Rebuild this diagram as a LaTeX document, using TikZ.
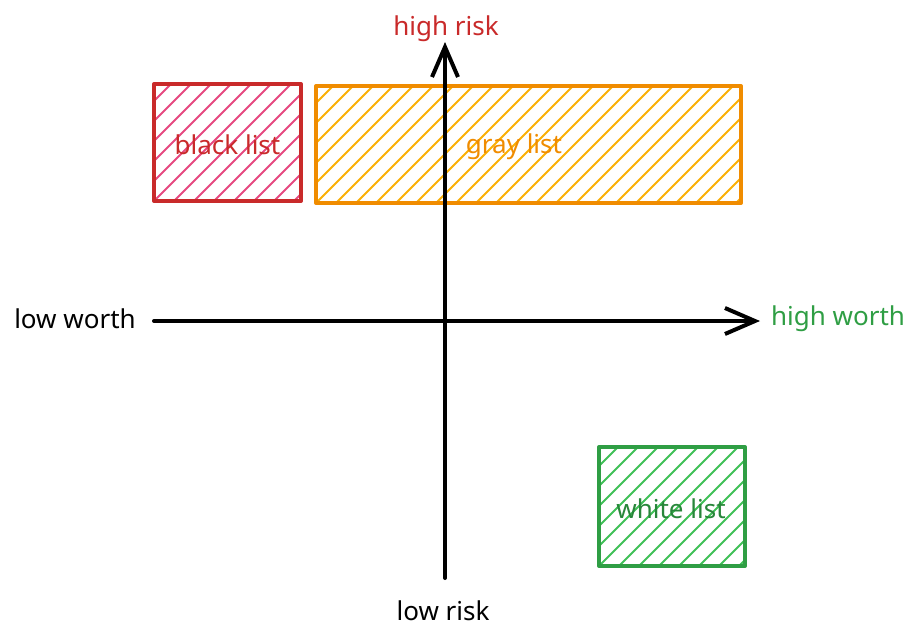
\documentclass[tikz,border=0pt]{standalone}
\usepackage{fontspec}
\setmainfont{Noto Sans}
\usetikzlibrary{arrows.meta}
\definecolor{redS}{HTML}{C92A2A}
\definecolor{pinkH}{HTML}{E64980}
\definecolor{orS}{HTML}{F08C00}
\definecolor{orH}{HTML}{FAB005}
\definecolor{orT}{HTML}{F08C00}
\definecolor{grS}{HTML}{2F9E44}
\definecolor{grH}{HTML}{40C057}
\tikzset{
  lab/.style={font=\fontsize{26}{30}\selectfont, inner sep=0pt},
  boxtxt/.style={font=\fontsize{26}{30}\selectfont, inner sep=0pt},
  axis/.style={line width=4pt, black, line cap=round,
    -{Straight Barb[length=30pt,width=26pt,line width=4pt]}},
  frame/.style={line width=4pt, line join=round},
  hatch/.style={line width=1.8pt},
}
\newcommand{\hatchbox}[5]{% x0 y0 x1 y1 color
  \begin{scope}
    \clip (#1,#2) rectangle (#3,#4);
    \foreach \i in {-160,-140,...,460} {
      \draw[hatch,#5] (#1+\i,#4) -- ++(160,-160);
    }
  \end{scope}
}
\begin{document}
\begin{tikzpicture}[x=1pt,y=-1pt]
\useasboundingbox (0,0) rectangle (918,640);
% hatching
\hatchbox{154}{84}{301}{201}{pinkH}
\hatchbox{316}{86}{741}{203}{orH}
\hatchbox{599}{447}{745}{566}{grH}
% frames
\node[draw=redS, frame, minimum width=147pt, minimum height=117pt, inner sep=0pt] (black) at (227.5,142.5) {};
\node[draw=orS, frame, minimum width=425pt, minimum height=117pt, inner sep=0pt] (gray) at (528.5,144.5) {};
\node[draw=grS, frame, minimum width=146pt, minimum height=119pt, inner sep=0pt] (white) at (672,506.5) {};
\node[boxtxt, text=redS] (blacktxt) at (227.5,145) {black list};
\node[boxtxt, text=orT] (graytxt) at (514,147) {gray list};
\node[boxtxt, text=grS!85!black] (whitetxt) at (671,509) {white list};
% axes
\coordinate (vb) at (445,578);
\coordinate (vt) at (445,42);
\coordinate (hl) at (154,321);
\coordinate (hr) at (760,321);
\draw[axis] (vb) -- (vt);
\draw[axis] (hl) -- (hr);
% labels
\node[lab, text=redS] (hrisk) at (446,29) {high risk};
\node[lab, text=black] (lrisk) at (443,611) {low risk};
\node[lab, text=black] (lworth) at (75,319) {low worth};
\node[lab, text=grS] (hworth) at (838,319) {high worth};
\end{tikzpicture}
\end{document}
